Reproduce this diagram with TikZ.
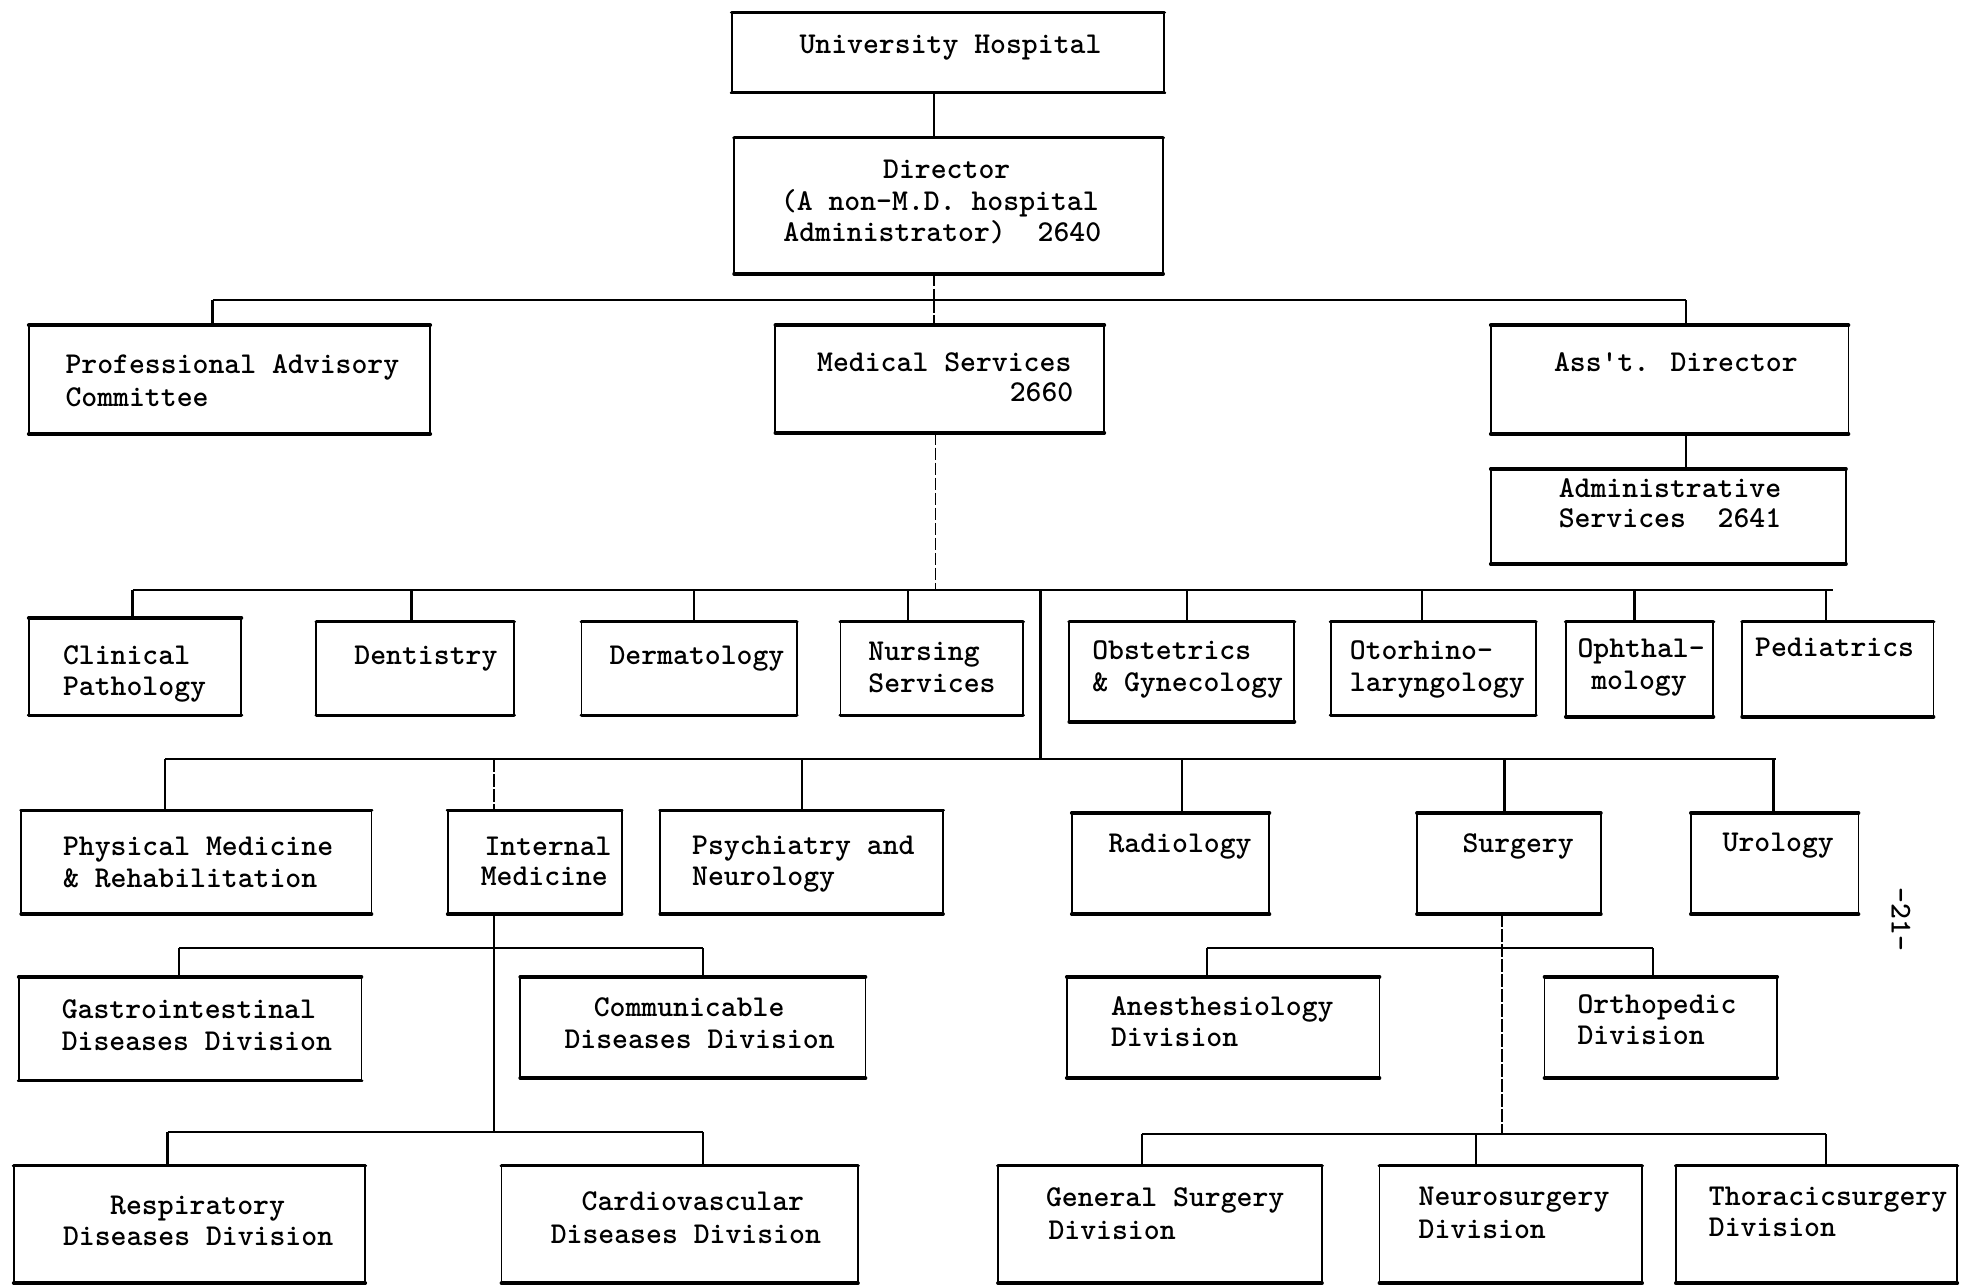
\documentclass[tikz,border=0pt]{standalone}
\usepackage{fontspec}
\newfontfamily\typefont{lmmonolt10-bold.otf}
\usetikzlibrary{calc}
\begin{document}
\begin{tikzpicture}[x=0.5pt,y=-0.5pt,
  boxnode/.style={shape=rectangle,inner sep=0pt,outer sep=0pt,draw=none},
  rule/.style={line width=1.5pt,line cap=round},
  side/.style={line width=0.75pt},
  link/.style={line width=0.9pt},
  faint/.style={line width=0.6pt,dash pattern=on 5pt off 1pt},
  typed/.style={font=\typefont\fontsize{12.1}{14}\selectfont},
  lbl/.style={typed,inner sep=0pt,anchor=base west},
  clbl/.style={lbl,anchor=base}]

% an org-chart box: heavy typed rules top and bottom, light sides
\newcommand\orgbox[5]{%
  \node[boxnode,minimum width={(#4-#2)*0.5pt},minimum height={(#5-#3)*0.5pt}]
    (#1) at ({(#2+#4)/2},{(#3+#5)/2}) {};
  \draw[rule] (#1.north west) -- (#1.north east);
  \draw[rule] (#1.south west) -- (#1.south east);
  \draw[side] (#1.north west) -- (#1.south west);
  \draw[side] (#1.north east) -- (#1.south east);}
% text lines: left-aligned and centred
\newcommand\lab[4]{\node[lbl] (#1) at (#2,{#3+7}) {#4};}
\newcommand\clab[4]{\node[clbl] (#1) at (#2,{#3+7}) {#4};}

\useasboundingbox (0,0) rectangle (1568,1029);

% ---------- top levels ----------
\orgbox{uh}{585}{10}{931}{74}
\clab{uh-t}{760}{36}{University Hospital}

\orgbox{dir}{587}{110}{930}{219}
\clab{dir-t1}{757}{136}{Director}
\lab{dir-t2}{624}{161}{(A non-M.D. hospital}
\lab{dir-t3}{626}{186}{Administrator)\ \ 2640}

\orgbox{pac}{23}{260}{344}{347}
\lab{pac-t1}{52}{292}{Professional Advisory}
\lab{pac-t2}{52}{318}{Committee}

\orgbox{med}{620}{260}{883}{346}
\lab{med-t1}{653}{290}{Medical Services}
\lab{med-t2}{807}{314}{2660}

\orgbox{ass}{1192}{260}{1478}{347}
\clab{ass-t}{1340}{290}{Ass'{}t. Director}

\orgbox{adm}{1192}{375}{1476}{451}
\lab{adm-t1}{1246}{391}{Administrative}
\lab{adm-t2}{1246}{415}{Services\ \ 2641}

% ---------- third row ----------
\orgbox{clin}{23}{494}{193}{572}
\lab{clin-t1}{50}{524}{Clinical}
\lab{clin-t2}{50}{549}{Pathology}

\orgbox{dent}{253}{497}{411}{572}
\lab{dent-t}{283}{524}{Dentistry}

\orgbox{derm}{465}{497}{637}{572}
\lab{derm-t}{487}{524}{Dermatology}

\orgbox{nurs}{672}{497}{818}{572}
\lab{nurs-t1}{694}{521}{Nursing}
\lab{nurs-t2}{694}{547}{Services}

\orgbox{obst}{855}{497}{1035}{577}
\lab{obst-t1}{873}{520}{Obstetrics}
\lab{obst-t2}{873}{546}{\& Gynecology}

\orgbox{oto}{1064}{497}{1228}{572}
\lab{oto-t1}{1079}{520}{Otorhino-}
\lab{oto-t2}{1079}{546}{laryngology}

\orgbox{oph}{1252}{497}{1370}{573}
\lab{oph-t1}{1261}{519}{Ophthal-}
\lab{oph-t2}{1272}{544}{mology}

\orgbox{ped}{1393}{497}{1546}{573}
\lab{ped-t}{1403}{518}{Pediatrics}

% ---------- fourth row ----------
\orgbox{phys}{17}{648}{297}{731}
\lab{phys-t1}{50}{677}{Physical Medicine}
\lab{phys-t2}{50}{703}{\& Rehabilitation}

\orgbox{intm}{358}{648}{497}{731}
\lab{intm-t1}{387}{677}{Internal}
\lab{intm-t2}{384}{701}{Medicine}

\orgbox{psy}{528}{648}{754}{731}
\lab{psy-t1}{553}{676}{Psychiatry and}
\lab{psy-t2}{553}{701}{Neurology}

\orgbox{rad}{857}{650}{1015}{731}
\lab{rad-t}{886}{675}{Radiology}

\orgbox{surg}{1133}{650}{1280}{731}
\lab{surg-t}{1169}{675}{Surgery}

\orgbox{uro}{1352}{650}{1486}{731}
\lab{uro-t}{1377}{674}{Urology}

% ---------- divisions ----------
\orgbox{gast}{15}{781}{289}{864}
\lab{gast-t1}{49}{807}{Gastrointestinal}
\lab{gast-t2}{49}{833}{Diseases Division}

\orgbox{comm}{416}{781}{692}{862}
\clab{comm-t1}{551}{806}{Communicable}
\lab{comm-t2}{451}{831}{Diseases Division}

\orgbox{anes}{853}{781}{1103}{862}
\lab{anes-t1}{888}{805}{Anesthesiology}
\lab{anes-t2}{888}{830}{Division}

\orgbox{orth}{1235}{781}{1421}{862}
\lab{orth-t1}{1261}{803}{Orthopedic}
\lab{orth-t2}{1261}{828}{Division}

\orgbox{resp}{11}{932}{292}{1026}
\clab{resp-t1}{158}{964}{Respiratory}
\lab{resp-t2}{50}{989}{Diseases Division}

\orgbox{card}{401}{932}{686}{1026}
\clab{card-t1}{554}{961}{Cardiovascular}
\lab{card-t2}{440}{987}{Diseases Division}

\orgbox{gens}{798}{932}{1057}{1026}
\lab{gens-t1}{836}{958}{General Surgery}
\lab{gens-t2}{838}{984}{Division}

\orgbox{neur}{1103}{932}{1313}{1026}
\lab{neur-t1}{1134}{957}{Neurosurgery}
\lab{neur-t2}{1134}{983}{Division}

\orgbox{thor}{1340}{932}{1565}{1026}
\lab{thor-t1}{1366}{957}{Thoracicsurgery}
\lab{thor-t2}{1366}{982}{Division}

% page number
\node[typed,rotate=-90,inner sep=0pt] (pageno) at (1520,735) {-21-};

% ---------- junction points on the bus lines ----------
\coordinate (jA) at (747,240);
\coordinate (jA-l) at (170,240);
\coordinate (jA-r) at (1348,240);

\coordinate (jB) at (748,472);
\coordinate (jB-l) at (106,472);
\coordinate (jB-r) at (1466,472);
\coordinate (jB-s) at (832,472);
\coordinate (dB1) at (329,472);
\coordinate (dB2) at (555,472);
\coordinate (dB3) at (726,472);
\coordinate (dB4) at (949,472);
\coordinate (dB5) at (1137,472);
\coordinate (dB6) at (1307,472);
\coordinate (dB7) at (1460,472);

\coordinate (jC) at (832,607);
\coordinate (jC-l) at (132,607);
\coordinate (jC-r) at (1420,607);
\coordinate (dC1) at (395,607);
\coordinate (dC2) at (641,607);
\coordinate (dC3) at (945,607);
\coordinate (dC4) at (1203,607);
\coordinate (dC5) at (1418,607);

\coordinate (jD) at (395,758);
\coordinate (jD-l) at (143,758);
\coordinate (jD-r) at (562,758);
\coordinate (jE) at (395,905);
\coordinate (jE-l) at (134,905);
\coordinate (jE-r) at (562,905);

\coordinate (jF) at (1201,758);
\coordinate (jF-l) at (965,758);
\coordinate (jF-r) at (1322,758);
\coordinate (jG) at (1201,907);
\coordinate (jG-l) at (913,907);
\coordinate (jG-m) at (1180,907);
\coordinate (jG-r) at (1460,907);

% ---------- connectors ----------
\draw[link] (uh.south -| jA) -- (dir.north -| jA);
\draw[faint] (dir.south -| jA) -- (jA);
\draw[link] (jA-l) -- (jA-r);
\draw[link] (jA-l) -- (pac.north -| jA-l);
\draw[faint] (jA) -- (med.north -| jA);
\draw[link] (jA-r) -- (ass.north -| jA-r);
\draw[link] (ass.south -| jA-r) -- (adm.north -| jA-r);

\draw[faint] (med.south -| jB) -- (jB);
\draw[link] (jB-l) -- (jB-r);
\draw[link] (jB-l) -- (clin.north -| jB-l);
\draw[link] (dB1) -- (dent.north -| dB1);
\draw[link] (dB2) -- (derm.north -| dB2);
\draw[link] (dB3) -- (nurs.north -| dB3);
\draw[link] (dB4) -- (obst.north -| dB4);
\draw[link] (dB5) -- (oto.north -| dB5);
\draw[link] (dB6) -- (oph.north -| dB6);
\draw[link] (dB7) -- (ped.north -| dB7);
\draw[link] (jB-s) -- (jC);

\draw[link] (jC-l) -- (jC-r);
\draw[link] (jC-l) -- (phys.north -| jC-l);
\draw[faint] (dC1) -- (intm.north -| dC1);
\draw[link] (dC2) -- (psy.north -| dC2);
\draw[link] (dC3) -- (rad.north -| dC3);
\draw[link] (dC4) -- (surg.north -| dC4);
\draw[link] (dC5) -- (uro.north -| dC5);

\draw[link] (intm.south -| jD) -- (jE);
\draw[link] (jD-l) -- (jD-r);
\draw[link] (jD-l) -- (gast.north -| jD-l);
\draw[link] (jD-r) -- (comm.north -| jD-r);
\draw[link] (jE-l) -- (jE-r);
\draw[link] (jE-l) -- (resp.north -| jE-l);
\draw[link] (jE-r) -- (card.north -| jE-r);

\draw[faint] (surg.south -| jF) -- (jG);
\draw[link] (jF-l) -- (jF-r);
\draw[link] (jF-l) -- (anes.north -| jF-l);
\draw[link] (jF-r) -- (orth.north -| jF-r);
\draw[link] (jG-l) -- (jG-r);
\draw[link] (jG-l) -- (gens.north -| jG-l);
\draw[link] (jG-m) -- (neur.north -| jG-m);
\draw[link] (jG-r) -- (thor.north -| jG-r);
\end{tikzpicture}
\end{document}
